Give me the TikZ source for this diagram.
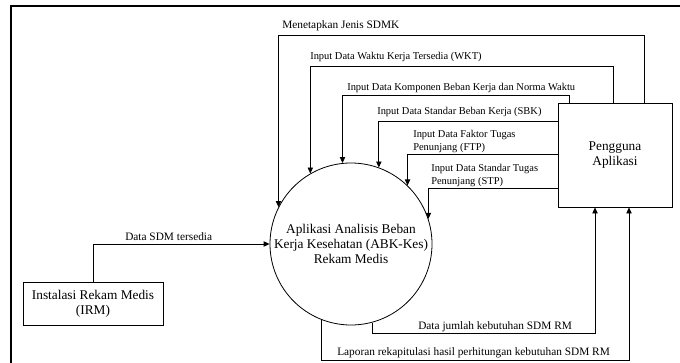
\documentclass[tikz,border=0pt]{standalone}
\usepackage{fontspec}
\setmainfont{Liberation Serif}
\usetikzlibrary{arrows.meta}
\begin{document}
\begin{tikzpicture}[x=0.75pt,y=-0.75pt,
  proses/.style={circle,draw,line width=0.6pt,minimum size=121.5pt,inner sep=0pt,align=center,font=\fontsize{10}{11.25}\selectfont},
  entitas/.style={rectangle,draw,line width=0.6pt,align=center,font=\fontsize{10}{11.5}\selectfont},
  alir/.style={draw,line width=0.6pt,-{Triangle[length=4.5pt,width=4pt]}},
  ket/.style={inner sep=0pt,anchor=west,align=left,font=\fontsize{7.85}{9.75}\selectfont},
  ketbesar/.style={ket,font=\fontsize{8.5}{10}\selectfont}]
\useasboundingbox (0,0) rectangle (680,363);
\draw[line width=1.5pt] (11,363) -- (11,6) -- (680,6);

\node[proses] (abk) at (351,244) {Aplikasi Analisis Beban\\Kerja Kesehatan (ABK-Kes)\\Rekam Medis};
\node[entitas,minimum width=85.5pt,minimum height=78pt] (pengguna) at (615,155) {Pengguna\\Aplikasi};
\node[entitas,minimum width=105pt,minimum height=32.25pt] (irm) at (93,303.5) {Instalasi Rekam Medis\\(IRM)};

\draw[alir] ([xshift=21.75pt]pengguna.north) |- (abk.153 |- 0,35) -- (abk.153);
\draw[alir] ([xshift=-1.5pt]pengguna.north) |- (abk.120 |- 0,66) -- (abk.120);
\draw[alir] ([xshift=-34.5pt]pengguna.north) |- (abk.96 |- 0,95) -- (abk.96);
\draw[alir] ([yshift=25.5pt]pengguna.west) -| (abk.70);
\draw[alir] ([yshift=0.75pt]pengguna.west) -| (abk.46);
\draw[alir] ([yshift=-24.75pt]pengguna.west) -| (abk.18);
\draw[alir] (abk.285) -- (abk.285 |- 0,333) -| ([xshift=-15pt]pengguna.south);
\draw[alir] (abk.249) -- (abk.249 |- 0,360) -| ([xshift=10.5pt]pengguna.south);
\draw[alir] (irm.north) |- (abk.west);

\node[ketbesar] (k1) at (282,26) {Menetapkan Jenis SDMK};
\node[ket] (k2) at (310,57) {Input Data Waktu Kerja Tersedia (WKT)};
\node[ket] (k3) at (347,88) {Input Data Komponen Beban Kerja dan Norma Waktu};
\node[ket] (k4) at (377,112) {Input Data Standar Beban Kerja (SBK)};
\node[ket] (k5) at (413,141.5) {Input Data Faktor Tugas\\Penunjang (FTP)};
\node[ket] (k6) at (431,175) {Input Data Standar Tugas\\Penunjang (STP)};
\node[ketbesar] (k7) at (418,327) {Data jumlah kebutuhan SDM RM};
\node[ketbesar] (k8) at (337,353) {Laporan rekapitulasi hasil perhitungan kebutuhan SDM RM};
\node[ketbesar] (k9) at (125,237) {Data SDM tersedia};
\end{tikzpicture}
\end{document}
